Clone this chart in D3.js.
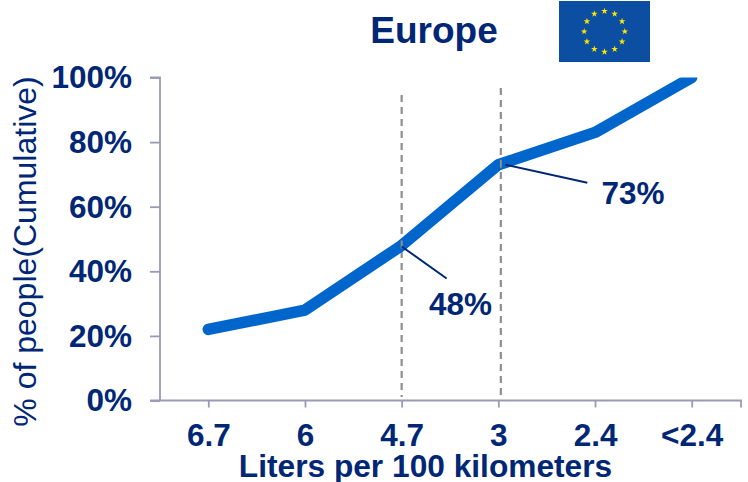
<!DOCTYPE html>
<html>
<head>
<meta charset="utf-8">
<script src="https://cdn.jsdelivr.net/npm/d3@7/dist/d3.min.js"></script>
<style>
html,body{margin:0;padding:0;background:#fff}
svg{display:block}
text{font-family:"Liberation Sans",Arial,sans-serif}
</style>
</head>
<body>
<svg id="chart" width="748" height="482"></svg>
<script>
// Cumulative share of people by fuel consumption
const categories = ["6.7", "6", "4.7", "3", "2.4", "<2.4"];
const cumulative = [22, 28, 48, 73, 83, 100];
const yTicks = [0, 20, 40, 60, 80, 100];
const callouts = [
  {cat: "4.7", value: 48, label: "48%", dashTop: 95, dashShift: 0, lead: [0, 1, 45, 33], tx: 460.5, ty: 315},
  {cat: "3", value: 73, label: "73%", dashTop: 88, dashShift: 2.5, lead: [7, 0, 89, 18], tx: 633, ty: 204}
];

const navy = "#002776", blue = "#0066cc", axisCol = "#9a9ab5", dashCol = "#8f8f8f";
const svg = d3.select("#chart");

const x = d3.scalePoint().domain(categories).range([208.3, 691.7]);
const y = d3.scaleLinear().domain([0, 100]).range([400.5, 77.5]);

// Y axis with outward ticks
const gy = svg.append("g").attr("transform", "translate(160,0)")
  .call(d3.axisLeft(y).tickValues(yTicks).tickSize(10).tickPadding(18).tickFormat(d => d + "%"));
gy.selectAll("path").attr("d", `M-10,${y(100)}H0V${y(0)}`).attr("stroke", axisCol).attr("stroke-width", 1.8).attr("fill", "none");
gy.selectAll("line").attr("stroke", axisCol).attr("stroke-width", 1.8);
gy.selectAll("text").attr("fill", navy).attr("font-size", 31.5).attr("font-weight", "bold").attr("dy", "0.33em");

// X axis; the baseline runs past the last category and ends in its own tick
const gx = svg.append("g").attr("transform", `translate(0,${y(0)})`)
  .call(d3.axisBottom(x).tickSize(7).tickPadding(16));
gx.selectAll("path").attr("d", "M150,0H741V7").attr("stroke", axisCol).attr("stroke-width", 1.8).attr("fill", "none");
gx.selectAll("line").attr("stroke", axisCol).attr("stroke-width", 1.8);
gx.selectAll("text").attr("fill", navy).attr("font-size", 31.5).attr("font-weight", "bold");

// Dashed guides behind the callouts
svg.append("g").selectAll("line").data(callouts).join("line")
  .attr("x1", d => x(d.cat) + d.dashShift).attr("x2", d => x(d.cat) + d.dashShift)
  .attr("y1", d => d.dashTop).attr("y2", 397)
  .attr("stroke", dashCol).attr("stroke-width", 2.2).attr("stroke-dasharray", "7 5");

// Cumulative curve, cut off flat at the top of the plot
svg.append("clipPath").attr("id", "plot-top")
  .append("rect").attr("x", 150).attr("y", y(100)).attr("width", 598).attr("height", y(0) - y(100));
const line = d3.line().x((d, i) => x(categories[i])).y(d => y(d));
svg.append("path").datum(cumulative)
  .attr("d", line).attr("fill", "none").attr("stroke", blue).attr("clip-path", "url(#plot-top)")
  .attr("stroke-width", 11.5).attr("stroke-linejoin", "bevel").attr("stroke-linecap", "round");

// Guides show faintly over the curve at the marked points
svg.append("g").selectAll("line").data(callouts).join("line")
  .attr("x1", d => x(d.cat) + d.dashShift).attr("x2", d => x(d.cat) + d.dashShift)
  .attr("y1", d => y(d.value) - 5).attr("y2", d => y(d.value) + 3)
  .attr("stroke", dashCol).attr("stroke-width", 2);

// Leader lines and value labels
svg.append("g").selectAll("line").data(callouts).join("line")
  .attr("x1", d => x(d.cat) + d.lead[0]).attr("y1", d => y(d.value) + d.lead[1])
  .attr("x2", d => x(d.cat) + d.lead[2]).attr("y2", d => y(d.value) + d.lead[3])
  .attr("stroke", navy).attr("stroke-width", 2);
svg.append("g").selectAll("text").data(callouts).join("text")
  .attr("x", d => d.tx).attr("y", d => d.ty).attr("text-anchor", "middle")
  .attr("fill", navy).attr("font-size", 31.5).attr("font-weight", "bold").text(d => d.label);

// Titles
svg.append("text").attr("x", 434).attr("y", 43).attr("text-anchor", "middle")
  .attr("fill", navy).attr("font-size", 37).attr("font-weight", "bold").text("Europe");
svg.append("text").attr("x", 425.5).attr("y", 477).attr("text-anchor", "middle")
  .attr("fill", navy).attr("font-size", 31.7).attr("font-weight", "bold").text("Liters per 100 kilometers");
svg.append("text").attr("transform", "translate(36,251.5) rotate(-90)").attr("text-anchor", "middle")
  .attr("fill", navy).attr("font-size", 32).text("% of people(Cumulative)");

// EU flag
const flag = svg.append("g").attr("transform", "translate(559,1)");
flag.append("rect").attr("width", 91).attr("height", 61).attr("fill", "#0b4ea2");
const starAngles = d3.range(12).map(i => i * Math.PI / 6);
flag.selectAll("path").data(starAngles).join("path")
  .attr("d", d3.symbol(d3.symbolStar, 14))
  .attr("transform", a => `translate(${45.5 + 20.3 * Math.sin(a)},${30.5 - 20.3 * Math.cos(a)})`)
  .attr("fill", "#ffe600");
</script>
</body>
</html>
